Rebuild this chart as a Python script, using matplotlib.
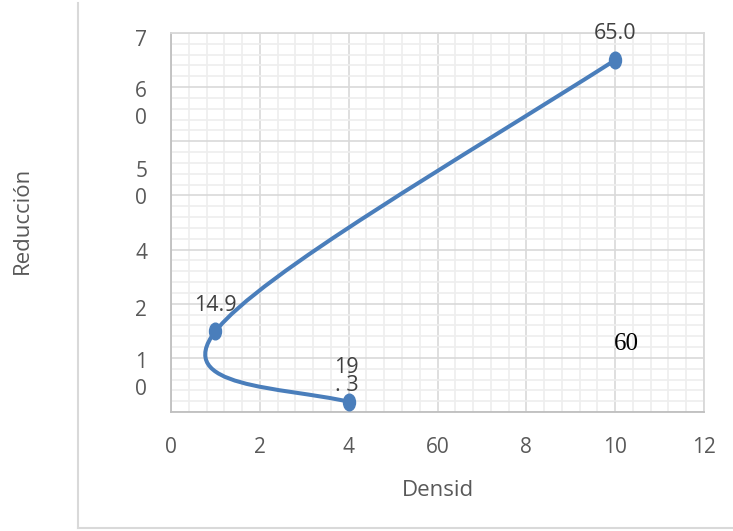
import numpy as np
import matplotlib
matplotlib.use("Agg")
import matplotlib.pyplot as plt
from matplotlib.path import Path
from matplotlib.patches import PathPatch
from matplotlib.lines import Line2D
from matplotlib.transforms import Affine2D
from matplotlib.ticker import MultipleLocator

plt.rcParams['font.family'] = ['Open Sans', 'DejaVu Sans']

# data
densidad = [4, 1, 10]
reduccion = [1.9, 14.9, 65.0]
point_labels = ["19\n. 3", "14.9", "65.0"]
x_ticks = [0, 2, 4, 6, 8, 10, 12]
x_tick_labels = ["0", "2", "4", "60", "8", "10", "12"]
# the y labels of the original are broken into pieces
y_tick_labels = ["7", "6\n0", "5\n0", "4", "2", "1\n0"]
y_label_pos = [68.7, 56.7, 41.9, 29.2, 18.8, 6.6]

BLUE = "#4a7ebb"
GRAY_TXT = "#595959"


def smooth_path(xs, ys, alpha=0.25):
    '''
    Bezier smoothing similar to the "smoothed line" option of spreadsheets
    '''
    P = np.column_stack([xs, ys]).astype(float)
    n = len(P)
    T = np.zeros_like(P)
    for i in range(1, n - 1):
        T[i] = (P[i + 1] - P[i - 1]) / 2
    d0 = P[1] - P[0]
    dn = P[-1] - P[-2]
    T[0] = alpha * (2 * d0 - T[1]) + (1 - alpha) * d0
    T[-1] = alpha * (2 * dn - T[-2]) + (1 - alpha) * dn
    verts = [P[0]]
    codes = [Path.MOVETO]
    for i in range(n - 1):
        verts += [P[i] + T[i] / 3, P[i + 1] - T[i + 1] / 3, P[i + 1]]
        codes += [Path.CURVE4] * 3
    return Path(verts, codes)


fig = plt.figure(figsize=(7.33, 5.31), dpi=100)
ax = fig.add_axes([171 / 733, 1 - 412 / 531, 533 / 733, 379 / 531])

ax.set_xlim(0, 12)
ax.set_ylim(0, 70)
ax.xaxis.set_major_locator(MultipleLocator(2))
ax.xaxis.set_minor_locator(MultipleLocator(0.4))
ax.yaxis.set_major_locator(MultipleLocator(10))
ax.yaxis.set_minor_locator(MultipleLocator(2))
ax.grid(which='minor', color='#eeeeee', lw=1.2, zorder=0)
ax.grid(which='major', color='#d9d9d9', lw=1.2, zorder=0)
ax.set_axisbelow(True)

for side in ['top', 'right']:
    ax.spines[side].set_color('#d9d9d9')
for side in ['left', 'bottom']:
    ax.spines[side].set_color('#bfbfbf')
for sp in ax.spines.values():
    sp.set_linewidth(1.3)

ax.set_xticks(x_ticks)
ax.set_xticklabels(x_tick_labels)
ax.tick_params(axis='x', which='both', length=0, pad=18, labelsize=15, labelcolor=GRAY_TXT)
ax.tick_params(axis='y', which='both', length=0, labelleft=False)

for lab, yv in zip(y_tick_labels, y_label_pos):
    ax.text(-0.056, yv, lab, transform=ax.get_yaxis_transform(), ha='center', va='center',
            fontsize=15, color=GRAY_TXT, linespacing=1.4)

# smoothed series
ax.add_patch(PathPatch(smooth_path(densidad, reduccion), fill=False, ec=BLUE, lw=2.9,
                       capstyle='round', joinstyle='round', zorder=3))
oval = Path.unit_circle().transformed(Affine2D().scale(0.72, 1.0))
ax.plot(densidad, reduccion, ls='none', marker=oval, ms=12, color=BLUE, zorder=4, clip_on=False)

offsets = [(-2, 25), (0, 26), (0, 27)]
for xv, yv, lab, off in zip(densidad, reduccion, point_labels, offsets):
    ax.annotate(lab, (xv, yv), xytext=off, textcoords='offset pixels', ha='center', va='center',
                fontsize=15.5, color='#404040', linespacing=0.78, zorder=5)

# stray label that sits inside the plot of the original
ax.text(10.25, 12.5, "60", ha='center', va='center', fontsize=18, family='Liberation Serif',
        color='black', zorder=5)

ax.set_xlabel("Densid", fontsize=16, color=GRAY_TXT, va='center')
ax.xaxis.set_label_coords(0.5, (412 - 490) / 379)
ax.set_ylabel("Reducción", fontsize=16, color=GRAY_TXT, va='center')
ax.yaxis.set_label_coords((22 - 171) / 533, (412 - 220) / 379)

# chart area border (only left and bottom show)
fig.add_artist(Line2D([78 / 733, 78 / 733], [1 - 3 / 531, 1 - 528 / 531], color='#d9d9d9', lw=1.5))
fig.add_artist(Line2D([78 / 733, 1], [1 - 528 / 531, 1 - 528 / 531], color='#d9d9d9', lw=1.5))

fig.savefig("out.png", dpi=100)
